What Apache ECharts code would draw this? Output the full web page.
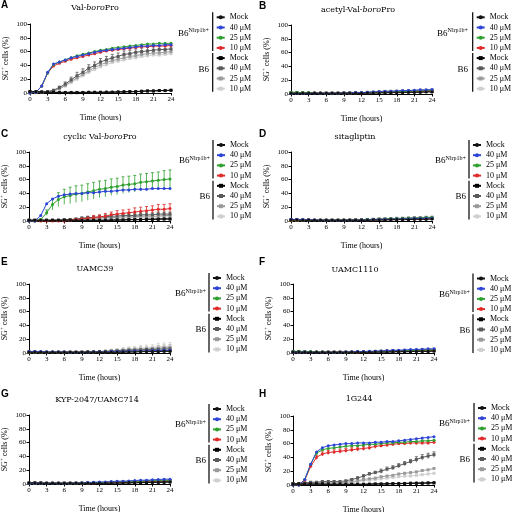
<!DOCTYPE html>
<html><head><meta charset="utf-8">
<script src="https://cdn.jsdelivr.net/npm/echarts@6/dist/echarts.min.js"></script>
<style>html,body{margin:0;padding:0;background:#fff}#c{width:512px;height:512px}</style>
</head><body><div id="c"></div>
<script>
// ---------- DATA ----------
const hours = [0,1,2,3,4,5,6,7,8,9,10,11,12,13,14,15,16,17,18,19,20,21,22,23,24];
const doseLabels = ['Mock','40 μM','25 μM','10 μM'];
const panelLetters = ['A','B','C','D','E','F','G','H'];
const panelTitles = ['Val-{i|boro}Pro','acetyl-Val-{i|boro}Pro','cyclic Val-{i|boro}Pro','sitagliptin','UAMC39','UAMC1110','KYP-2047/UAMC714','1G244'];
const xAxisTitle = 'Time (hours)';
const yAxisTitle = '{a|SG}{s|+}{a| cells (%)}';

// Panel A
const A_N_mock = [2,1.5,1.5,1,1,1,1,1,1,1,1,1,1,1.5,1.5,1.5,2,2,2,2.5,3,3,3.5,3.5,4];
const A_N_40 = [0,1,10,30,42,45,48,51,53,55,57,59,61,62,63,64,65,66,67,68,68,69,69,70,70];
const A_N_25 = [0,1,10,29,41,45,48,51,54,56,58,60,62,63,65,66,67,68,69,70,71,71,72,72,72];
const A_N_10 = [0,1,10,29,39,43,46,49,51,53,55,57,59,61,62,63,64,65,66,67,67,68,68,68,69];
const A_B_mock = [2,2,1.5,1,1,0.5,0.5,0.5,0.5,0.5,1,1,1,1,1,1.5,1.5,2,2,2.5,3,3,3.5,3.5,4];
const A_B_40 = [1,1,1,2,4,8,13,19,25,30,36,40,45,48,51,53,56,57,59,60,61,62,63,63,64];
const A_B_25 = [1,1,1,2,3,6,11,17,22,27,32,37,41,44,47,49,51,53,54,56,57,58,58,59,60];
const A_B_10 = [1,1,1,2,3,6,10,15,20,25,30,34,38,41,44,46,48,50,51,53,54,55,55,56,57];
const A_B_40_err = [0,0,0,1,1,2,3,4,5,5,5,5,5,5,5,5,5,5,5,5,5,5,5,5,5];
const A_B_25_err = [0,0,0,1,1,2,2,3,3,3,3,3,3,3,3,3,3,3,3,3,3,3,3,3,3];

// Panel B
const B_N_mock = [1,1,1,1,1,1,1,1,1,1,1,1,1,1.5,1.5,1.5,2,2,2,2,2.5,2.5,2.5,3,3];
const B_N_40 = [1,1,1,1,1,1,1,1,1,1.5,1.5,2,2,2.5,3,3.5,4,4,4.5,5,5,5.5,6,6,6.5];
const B_N_25 = [2.5,2.5,2,2,1.5,1,1,1,1,1,1.5,1.5,2,2,2.5,2.5,3,3,3.5,3.5,4,4,4.5,4.5,5];
const B_N_10 = [2,2,2,1.5,1.5,1,1,1,1,1,1,1.5,1.5,2,2,2.5,2.5,3,3,3,3.5,3.5,4,4,4];
const B_B_mock = [1.5,1.5,1.5,1,1,1,1,1,1,1,1,1,1,1.5,1.5,2,2,2,2.5,2.5,3,3,3,3.5,3.5];
const B_B_40 = [1,1,1,1,1,1,1,1,1,1,1,1.5,1.5,2,2,2.5,3,3,3.5,3.5,4,4,4.5,4.5,5];
const B_B_25 = [1,1,1,1,1,1,1,1,1,1.5,1.5,2,2,2.5,3,3,3.5,4,4,4.5,5,5,5.5,5.5,6];
const B_B_10 = [1,1,1,1,1,1,1,1,1,1,1.5,1.5,2,2,2.5,3,3,3.5,4,4,4.5,4.5,5,5,5.5];

// Panel C
const C_N_mock = [1,1,1,1,1,1,1,1,1,1,1,1,1,1,1.5,1.5,1.5,2,2,2,2.5,2.5,3,3,3];
const C_N_40 = [0,0,8,25,32,36,38,39,40,40,41,41,42,43,43,44,45,45,46,46,46,47,47,47,47];
const C_N_25 = [0,0,2,12,24,31,35,37,39,40,42,44,46,47,49,50,52,53,54,56,57,58,59,60,61];
const C_N_10 = [0,0,0,0,0,0,0,1,2,3,4,5,6,7,9,10,11,12,13,14,15,16,17,17,18];
const C_B_mock = [1,1,1,1,1,1,1,1,1,1,1,1,1,1,1,1.5,1.5,2,2,2,2.5,2.5,2.5,3,3];
const C_B_40 = [1,1,1,1,1,1,2,2,3,4,5,5,6,6,7,7,8,8,8,9,9,9,10,10,10];
const C_B_25 = [1,1,1,1,1,1,1,2,2,3,3,4,4,5,5,5,6,6,6,7,7,7,7,8,8];
const C_B_10 = [1,1,1,1,1,1,1,1,2,2,2,3,3,3,4,4,4,5,5,5,5,6,6,6,6];
const C_N_25_err = [0,0,1,4,8,10,11,12,12,12,12,12,12,12,12,12,12,12,12,12,12,12,12,13,13];
const C_N_10_err = [0,0,0,0,0,0,0,1,1,2,2,3,3,4,4,5,5,5,6,6,6,6,7,7,7];
const C_B_40_err = [0,0,0,0,0,0,1,1,1,2,2,2,2,3,3,3,3,3,3,3,3,3,3,3,3];

// Panel D
const D_N_mock = [1.5,1.5,1,1,1,1,1,1,1,1,1,1,1,1,1.5,1.5,1.5,2,2,2,2,2.5,2.5,2.5,3];
const D_N_40 = [2.5,2,2,1.5,1.5,1,1,1,1,1,1,1,1.5,1.5,2,2,2.5,2.5,3,3,3,3.5,3.5,4,4];
const D_N_25 = [1.5,1.5,1,1,1,1,1,1,1,1,1,1.5,1.5,2,2,2.5,3,3,3.5,3.5,4,4,4.5,5,5];
const D_N_10 = [1,1,1,1,1,1,1,1,1,1,1,1,1.5,1.5,1.5,2,2,2,2.5,2.5,3,3,3,3.5,3.5];
const D_B_mock = [2,2,1.5,1.5,1,1,1,1,1,1,1,1,1,1.5,1.5,1.5,2,2,2,2.5,2.5,3,3,3,3.5];
const D_B_40 = [1,1,1,1,1,1,1,1,1,1,1,1.5,1.5,2,2,2.5,2.5,3,3,3.5,3.5,4,4,4.5,4.5];
const D_B_25 = [1,1,1,1,1,1,1,1,1,1,1.5,1.5,2,2,2.5,3,3,3.5,4,4,4.5,5,5,5.5,5.5];
const D_B_10 = [1,1,1,1,1,1,1,1,1,1,1.5,1.5,2,2,2.5,2.5,3,3.5,3.5,4,4.5,4.5,5,5,5.5];

// Panel E
const E_N_mock = [1,1,1,1,1,1,1,1,1,1,1,1,1,1,1,1,1.5,1.5,1.5,2,2,2,2,2.5,2.5];
const E_N_40 = [2,2,2,1.5,1.5,1.5,1.5,1,1,1,1,1.5,1.5,1.5,2,2,2.5,2.5,3,3,3,3.5,3.5,4,4];
const E_N_25 = [1,1,1,1,1,1,1,1,1,1,1,1,1,1.5,1.5,1.5,2,2,2,2.5,2.5,3,3,3,3];
const E_N_10 = [1,1,1,1,1,1,1,1,1,1,1,1,1,1.5,1.5,1.5,2,2,2,2.5,2.5,2.5,3,3,3];
const E_B_mock = [1.5,1.5,1,1,1,1,1,1,1,1,1,1,1,1,1.5,1.5,1.5,2,2,2,2.5,2.5,2.5,3,3];
const E_B_40 = [1,1,1,1,1,1,1,1,1,1,1.5,1.5,2,2,2.5,3,3.5,4,4,4.5,5,5,5.5,6,6];
const E_B_25 = [1,1,1,1,1,1,1,1,1,1,1.5,1.5,2,2.5,3,3.5,4,5,5,5.5,6,6.5,7,7.5,8];
const E_B_10 = [1,1,1,1,1,1,1,1,1,1,1.5,2,2.5,3,3.5,4,5,6,6.5,7,7.5,8,9,9.5,10];
const E_B_25_err = [0,0,0,0,0,0,0,0,0,0,0,0,1,1,1,2,2,2,3,3,3,3,4,4,4];
const E_B_10_err = [0,0,0,0,0,0,0,0,0,0,0,0,1,1,2,2,3,3,3,4,4,4,5,5,5];

// Panel F
const F_N_mock = [1.5,1.5,1,1,1,1,1,1,1,1,1,1,1,1,1.5,1.5,1.5,2,2,2,2,2.5,2.5,2.5,3];
const F_N_40 = [1.5,1.5,1.5,1,1,1,1,1,1,1.5,1.5,2,2,2.5,2.5,3,3.5,4,4,4.5,5,5,5.5,6,6];
const F_N_25 = [2.5,2.5,2,2,1.5,1.5,1,1,1,1,1,1.5,1.5,2,2,2.5,2.5,3,3,3.5,3.5,4,4,4,4.5];
const F_N_10 = [2,2,2,1.5,1.5,1,1,1,1,1,1,1,1.5,1.5,2,2,2.5,2.5,3,3,3,3.5,3.5,3.5,4];
const F_B_mock = [1.5,1.5,1.5,1,1,1,1,1,1,1,1,1,1,1,1,1.5,1.5,1.5,2,2,2,2.5,2.5,2.5,3];
const F_B_40 = [1,1,1,1,1,1,1,1,1,1,1,1.5,1.5,2,2,2.5,2.5,3,3,3.5,3.5,4,4,4.5,4.5];
const F_B_25 = [1,1,1,1,1,1,1,1,1,1,1.5,1.5,2,2,2.5,2.5,3,3.5,3.5,4,4,4.5,5,5,5.5];
const F_B_10 = [1,1,1,1,1,1,1,1,1,1,1,1.5,1.5,2,2,2.5,3,3,3.5,3.5,4,4,4.5,4.5,5];

// Panel G
const G_N_mock = [1.5,1.5,1,1,1,1,1,1,1,1,1,1,1,1,1.5,1.5,1.5,2,2,2,2.5,2.5,2.5,3,3];
const G_N_40 = [1,1,1,1,1,1,1,1,1.5,1.5,2,2.5,3,3,3.5,4,4,4.5,5,5.5,5.5,6,6.5,7,7];
const G_N_25 = [1,1,1,1,1,1,1,1,1,1.5,1.5,2,2,2.5,3,3,3.5,3.5,4,4,4.5,5,5,5.5,5.5];
const G_N_10 = [1,1,1,1,1,1,1,1,1,1,1.5,1.5,2,2,2.5,2.5,3,3,3.5,3.5,4,4,4.5,4.5,5];
const G_B_mock = [1.5,1.5,1.5,1,1,1,1,1,1,1,1,1,1,1,1,1.5,1.5,1.5,2,2,2,2.5,2.5,2.5,3];
const G_B_40 = [1,1,1,1,1,1,1,1,1,1,1.5,1.5,2,2,2.5,2.5,3,3,3.5,3.5,4,4,4.5,4.5,5];
const G_B_25 = [1,1,1,1,1,1,1,1,1,1,1,1.5,1.5,2,2,2.5,2.5,3,3,3.5,3.5,4,4,4,4.5];
const G_B_10 = [1,1,1,1,1,1,1,1,1,1,1,1,1.5,1.5,2,2,2,2.5,2.5,3,3,3,3.5,3.5,4];

// Panel H
const H_N_mock = [1,1,1,1,1,1,1,1,1,1,1,1,1,1.5,1.5,1.5,2,2,2,2.5,2.5,3,3,3,3.5];
const H_N_40 = [0,0,8,30,48,54,57,58,59,60,60,61,61,61,62,62,63,63,64,65,66,67,68,69,70];
const H_N_25 = [0,0,8,30,46,51,53,54,55,56,57,57,58,59,59,60,61,61,62,62,63,63,64,64,65];
const H_N_10 = [0,0,7,27,40,45,47,48,49,50,51,52,53,54,56,57,58,59,60,60,61,61,61,61,62];
const H_B_mock = [1.5,1.5,1.5,1.5,1.5,1.5,1,1,1,1,1,1,1,1,1.5,1.5,1.5,2,2,2,2.5,2.5,2.5,3,3];
const H_B_40 = [2,2,3,4,4,5,5,5,5,6,8,10,13,16,18,20,23,25,28,31,34,37,40,42,44];
const H_B_25 = [2,2,3,3,3,3,3,3,3,4,5,6,8,9,10,12,13,14,16,17,18,19,21,22,24];
const H_B_10 = [2,2,2,2,3,3,3,3,3,3,4,5,6,7,8,9,10,11,12,13,13,14,15,16,17];
const H_B_40_err = [0,0,0,1,1,1,1,1,1,1,1,2,2,2,2,3,3,3,3,3,3,4,4,4,4];
const H_N_10_err = [0,0,1,2,3,3,3,3,3,3,3,3,3,3,3,2,2,2,2,2,2,2,2,2,2];

// ---------- ASSEMBLY ----------
const panelSeries = [
  [A_N_mock,A_N_40,A_N_25,A_N_10,A_B_mock,A_B_40,A_B_25,A_B_10],
  [B_N_mock,B_N_40,B_N_25,B_N_10,B_B_mock,B_B_40,B_B_25,B_B_10],
  [C_N_mock,C_N_40,C_N_25,C_N_10,C_B_mock,C_B_40,C_B_25,C_B_10],
  [D_N_mock,D_N_40,D_N_25,D_N_10,D_B_mock,D_B_40,D_B_25,D_B_10],
  [E_N_mock,E_N_40,E_N_25,E_N_10,E_B_mock,E_B_40,E_B_25,E_B_10],
  [F_N_mock,F_N_40,F_N_25,F_N_10,F_B_mock,F_B_40,F_B_25,F_B_10],
  [G_N_mock,G_N_40,G_N_25,G_N_10,G_B_mock,G_B_40,G_B_25,G_B_10],
  [H_N_mock,H_N_40,H_N_25,H_N_10,H_B_mock,H_B_40,H_B_25,H_B_10]
];
const panelErrors = [
  {5:A_B_40_err,6:A_B_25_err},
  {},
  {2:C_N_25_err,3:C_N_10_err,5:C_B_40_err},
  {},
  {6:E_B_25_err,7:E_B_10_err},
  {},
  {},
  {5:H_B_40_err,3:H_N_10_err}
];

// layout (positions in px)
const layout = [
  {gx:30, gy:24, ly:17.3, bx:212.7, lr:209, ttx:95, tty:8, lx:1, lyy:5},
  {gx:291,gy:25, ly:17.3, bx:472.7, lr:468, ttx:358,tty:10, lx:259, lyy:6},
  {gx:29, gy:152,ly:145,  bx:213,   lr:210, ttx:100,tty:137, lx:1, lyy:134},
  {gx:291,gy:152,ly:145,  bx:469,   lr:466, ttx:355,tty:137, lx:259, lyy:134},
  {gx:29, gy:284,ly:278,  bx:209,   lr:206, ttx:95, tty:269, lx:1, lyy:262},
  {gx:293,gy:284,ly:278.5,bx:473,   lr:470, ttx:355,tty:270, lx:259, lyy:262},
  {gx:29, gy:415,ly:409,  bx:209,   lr:206, ttx:97, tty:400, lx:1, lyy:394},
  {gx:293,gy:416,ly:408,  bx:474,   lr:470, ttx:359,tty:399, lx:259, lyy:394}
];
const GW = 141, GH = 69, STEP = 10.2;
const FONT = 'Liberation Serif';
const WFONT = 'DejaVu Serif';
const colors = ['#111111','#2d44d6','#2fa02f','#e02a2a','#000000','#5a5a5a','#9a9a9a','#cfcfcf'];
const symbols = ['circle','circle','circle','circle','rect','rect','rect','rect'];
const drawOrder = [7,6,5,4,3,2,1,0];

const grids=[], xAxes=[], yAxes=[], series=[], legends=[], graphics=[];
panelSeries.forEach((arrs, p) => {
  const L = layout[p];
  grids.push({left:L.gx, top:L.gy, width:GW, height:GH, containLabel:false, outerBoundsMode:'none'});
  xAxes.push({type:'value', gridIndex:p, min:0, max:24, interval:3,
    axisLine:{show:true, onZero:false, lineStyle:{color:'#000', width:1}},
    axisTick:{show:true, length:2.5, lineStyle:{color:'#000'}},
    splitLine:{show:false},
    axisLabel:{fontSize:7, color:'#000', fontFamily:FONT, margin:3},
    name:xAxisTitle, nameLocation:'middle', nameGap:21,
    nameTextStyle:{fontSize:8, color:'#000', fontFamily:FONT}});
  yAxes.push({type:'value', gridIndex:p, min:0, max:100, interval:20,
    axisLine:{show:true, onZero:false, lineStyle:{color:'#000', width:1}},
    axisTick:{show:true, length:2.5, lineStyle:{color:'#000'}},
    splitLine:{show:false},
    axisLabel:{fontSize:7, color:'#000', fontFamily:FONT, margin:3},
    name:yAxisTitle, nameLocation:'middle', nameGap:20,
    nameTextStyle:{fontSize:8, color:'#000', fontFamily:FONT,
      rich:{a:{fontSize:8, fontFamily:FONT, color:'#000', lineHeight:10, verticalAlign:'bottom'},
            s:{fontSize:5, fontFamily:FONT, color:'#000', lineHeight:10, verticalAlign:'top'}}}});
  const names = [];
  for (let s=0; s<8; s++) names.push(panelLetters[p] + s + '|' + doseLabels[s%4]);
  drawOrder.forEach(s => {
    const errs = panelErrors[p][s];
    if (errs) {
      series.push({type:'custom', xAxisIndex:p, yAxisIndex:p, silent:true, z:2,
        data: hours.map((h,i)=>[h, arrs[s][i], errs[i]]).filter(d=>d[2]>0),
        encode:{x:0, y:1},
        renderItem:(function(col){ return function(params, api){
          const x=api.value(0), y=api.value(1), e=api.value(2);
          const t=api.coord([x,y+e]), b=api.coord([x,Math.max(0,y-e)]);
          return {type:'group', children:[
            {type:'line', shape:{x1:t[0],y1:t[1],x2:b[0],y2:b[1]}, style:{stroke:col, lineWidth:0.8}},
            {type:'line', shape:{x1:t[0]-1.5,y1:t[1],x2:t[0]+1.5,y2:t[1]}, style:{stroke:col, lineWidth:0.8}}
          ]};
        };})(colors[s])});
    }
    series.push({type:'line', name:names[s], xAxisIndex:p, yAxisIndex:p, z:3,
      data: hours.map((h,i)=>[h, arrs[s][i]]),
      symbol:symbols[s], symbolSize:3, showSymbol:true, showAllSymbol:true,
      itemStyle:{color:colors[s]}, lineStyle:{color:colors[s], width:1},
      animation:false, emphasis:{disabled:true}});
  });
  legends.push({orient:'vertical', left:L.bx+3, top:L.ly-5, padding:0,
    itemWidth:8, itemHeight:5, itemGap:STEP-10, selectedMode:false,
    data:names, formatter:n=>n.split('|')[1],
    textStyle:{fontSize:8, fontFamily:FONT, color:'#000', lineHeight:10, padding:0}});
  // panel letter
  graphics.push({type:'text', x:L.lx, y:L.lyy, style:{text:panelLetters[p], fontSize:10, fontWeight:'bold', fontFamily:'Liberation Sans', fill:'#000', verticalAlign:'middle', textVerticalAlign:'middle'}});
  // title
  graphics.push({type:'text', x:L.ttx, y:L.tty, style:{text:panelTitles[p], fontSize:8, fontFamily:WFONT, fill:'#000',
    align:'center', textAlign:'center', verticalAlign:'middle', textVerticalAlign:'middle',
    rich:{i:{fontStyle:'italic', fontSize:8, fontFamily:WFONT, fill:'#000'}}}});
  // brackets
  graphics.push({type:'line', shape:{x1:L.bx, y1:L.ly-5, x2:L.bx, y2:L.ly+3*STEP+3}, style:{stroke:'#000', lineWidth:1.2}});
  graphics.push({type:'line', shape:{x1:L.bx, y1:L.ly+4*STEP-5, x2:L.bx, y2:L.ly+7*STEP+3}, style:{stroke:'#000', lineWidth:1.2}});
  // group labels
  graphics.push({type:'text', x:L.lr, y:L.ly+16, style:{text:'B6{s|Nlrp1b+}', fontSize:9, fontFamily:FONT, fill:'#000',
    align:'right', textAlign:'right', verticalAlign:'middle', textVerticalAlign:'middle',
    rich:{s:{fontSize:6, fontFamily:FONT, fill:'#000', verticalAlign:'top', lineHeight:11}}}});
  graphics.push({type:'text', x:L.lr, y:L.ly+52, style:{text:'B6', fontSize:9, fontFamily:FONT, fill:'#000',
    align:'right', textAlign:'right', verticalAlign:'middle', textVerticalAlign:'middle'}});
});

const chart = echarts.init(document.getElementById('c'), null, {renderer:'canvas'});
chart.setOption({animation:false, backgroundColor:'#fff', grid:grids, xAxis:xAxes, yAxis:yAxes,
  series:series, legend:legends, graphic:graphics, tooltip:{show:false}});
</script></body></html>
